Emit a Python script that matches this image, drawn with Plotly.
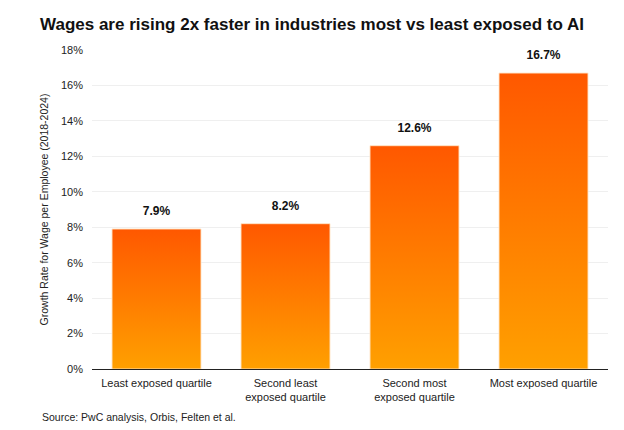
import plotly.graph_objects as go

# Data
categories = ["Least exposed quartile", "Second least<br>exposed quartile",
              "Second most<br>exposed quartile", "Most exposed quartile"]
growth = [7.9, 8.2, 12.6, 16.7]
value_labels = ["<b>7.9%</b>", "<b>8.2%</b>", "<b>12.6%</b>", "<b>16.7%</b>"]
y_ticks = [0, 2, 4, 6, 8, 10, 12, 14, 16, 18]
y_ticktext = ["0%", "2%", "4%", "6%", "8%", "10%", "12%", "14%", "16%", "18%"]

bar_width = 0.69
font_family = "Liberation Sans, Arial, sans-serif"

fig = go.Figure()

# Bars drawn as filled shapes so each one can carry a vertical gradient
for i, v in enumerate(growth):
    x0 = i - bar_width / 2
    x1 = i + bar_width / 2
    fig.add_trace(go.Scatter(
        x=[x0, x1, x1, x0, x0],
        y=[0, 0, v, v, 0],
        mode="lines",
        fill="toself",
        line=dict(color="rgba(255,230,200,0.9)", width=1),
        fillgradient=dict(type="vertical",
                          colorscale=[[0, "#FFA000"], [1, "#FF5800"]]),
        hoverinfo="skip",
        showlegend=False,
    ))

# Value labels above each bar (invisible markers push the text up a bit)
fig.add_trace(go.Scatter(
    x=list(range(len(growth))),
    y=growth,
    mode="markers+text",
    marker=dict(size=16, opacity=0),
    text=value_labels,
    textposition="top center",
    textfont=dict(family=font_family, size=12, color="#111111"),
    hoverinfo="skip",
    showlegend=False,
))

# page body adds 8px margin, so the figure is a bit smaller than the window
fig.update_layout(
    width=616,
    height=422,
    margin=dict(l=84, r=16, t=42, b=61),
    paper_bgcolor="white",
    plot_bgcolor="white",
    font=dict(family=font_family, size=11, color="#222222"),
    title=dict(
        text="<b>Wages are rising 2x faster in industries most vs least exposed to AI</b>",
        x=0.052, xanchor="left", y=0.962, yanchor="middle",
        font=dict(family=font_family, size=17, color="#111111"),
    ),
    xaxis=dict(
        range=[-0.5, 3.5],
        tickmode="array",
        tickvals=list(range(len(categories))),
        ticktext=categories,
        showgrid=False,
        zeroline=False,
        showline=False,
        ticks="",
        ticklabelstandoff=6,
        tickfont=dict(size=11, color="#222222"),
    ),
    yaxis=dict(
        range=[0, 18],
        tickmode="array",
        tickvals=y_ticks,
        ticktext=y_ticktext,
        showgrid=True,
        gridcolor="#EFEFEF",
        gridwidth=1,
        zeroline=True,
        zerolinecolor="#222222",
        zerolinewidth=1,
        ticks="",
        ticklabelstandoff=8,
        tickfont=dict(size=11, color="#222222"),
        title=dict(text="Growth Rate for Wage per Employee (2018-2024)",
                   font=dict(size=10.5, color="#222222"), standoff=10),
    ),
    annotations=[
        dict(text="Source: PwC analysis, Orbis, Felten et al.",
             xref="paper", yref="paper", x=-0.1008, y=-0.150,
             xanchor="left", yanchor="middle", showarrow=False,
             font=dict(size=10.5, color="#222222")),
    ],
)

fig.write_html("out.html")
